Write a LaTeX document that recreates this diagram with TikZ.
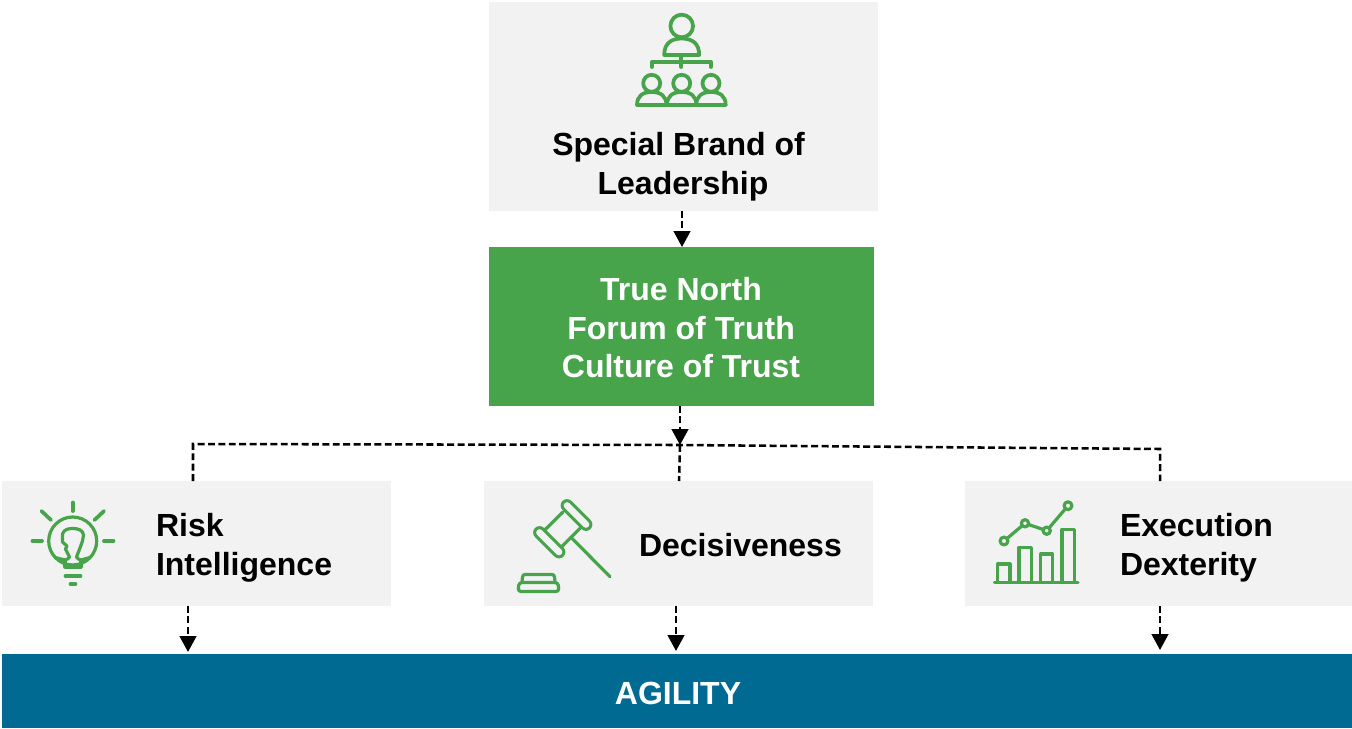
\documentclass[tikz,border=0pt]{standalone}
\usepackage{fontspec}
\setmainfont{Liberation Sans}
\usetikzlibrary{arrows.meta}
\definecolor{boxgray}{HTML}{F2F2F2}
\definecolor{leafgreen}{HTML}{47A44B}
\definecolor{deepblue}{HTML}{006A93}
\newcommand{\personicon}[6]{% cx, head y, head r, half width, body top, base
  \draw[icon,fill=boxgray] (#1,#2) circle[radius=#3];
  \draw[icon] ({#1-#4},#6) .. controls ({#1-#4},{#5+0.3*(#6-#5)}) and ({#1-0.6*#4},#5) .. (#1,#5)
     .. controls ({#1+0.6*#4},#5) and ({#1+#4},{#5+0.3*(#6-#5)}) .. ({#1+#4},#6) -- cycle;
}
\tikzset{
  x=0.75pt,y=-0.75pt,
  panel/.style={fill=boxgray,draw=none,inner sep=0pt,outer sep=0pt},
  label text/.style={font=\fontsize{24pt}{28.9pt}\selectfont\bfseries,inner sep=0pt,outer sep=0pt},
  icon/.style={draw=leafgreen,line width=2.8pt,line cap=round,line join=round},
  thin icon/.style={icon,line width=2.4pt},
  capsule/.style={draw=leafgreen,line width=2.3pt,double=boxgray,double distance=5pt,line cap=round},
  link/.style={draw=black,line width=1.9pt,dash pattern=on 5.2pt off 2.6pt},
  flow/.style={link,-{Triangle[length=12pt,width=12.5pt,fill=black]}},
}
\begin{document}
\begin{tikzpicture}
\useasboundingbox (0,0) rectangle (1352,728);
\fill[white] (0,0) rectangle (1352,728);

% boxes
\node[panel,minimum width=291.75pt,minimum height=156.75pt] (top) at (683.5,106.5) {};
\node[fill=leafgreen,inner sep=0pt,outer sep=0pt,minimum width=288.75pt,minimum height=119.25pt] (forum) at (681.5,326.5) {};
\node[panel,minimum width=291.75pt,minimum height=93.75pt] (risk) at (196.5,543.5) {};
\node[panel,minimum width=291.75pt,minimum height=93.75pt] (deci) at (678.5,543.5) {};
\node[panel,minimum width=290.25pt,minimum height=93.75pt] (exec) at (1158.5,543.5) {};
\node[fill=deepblue,inner sep=0pt,outer sep=0pt,minimum width=1012.5pt,minimum height=55.5pt] (agility) at (677,691) {};

% texts
\node[label text,align=center] (toptext) at (678.5,166.5) {Special Brand of\\\hspace*{6.75pt}Leadership};
\node[label text,align=center,text=white] (forumtext) at (681,328) {True North\\Forum of Truth\\Culture of Trust};
\node[label text,align=left,anchor=west] (risktext) at (156,548) {Risk\\Intelligence};
\node[label text,anchor=west] (decitext) at (639,545.5) {Decisiveness};
\node[label text,align=left,anchor=west] (exectext) at (1120,547.5) {Execution\\Dexterity};
\node[label text,text=white] (agilitytext) at (678,693) {AGILITY};

% connectors
\coordinate (hub) at (680,445);
\coordinate (busL) at (193,444);
\coordinate (busR) at (1160,449);
\coordinate (riskUp) at (193,481);
\coordinate (deciUp) at (679,481);
\coordinate (execUp) at (1160,481);
\coordinate (a1s) at (682,211); \coordinate (a1e) at (682,247);
\coordinate (a2s) at (680,406);
\coordinate (r1) at (188,606); \coordinate (r2) at (188,652);
\coordinate (d1) at (676,606); \coordinate (d2) at (676,651);
\coordinate (e1) at (1160,606); \coordinate (e2) at (1160,650);
\draw[flow] (a1s) -- (a1e);
\draw[flow] (a2s) -- (hub);
\draw[link] (riskUp) -- (busL) -- (hub) -- (busR) -- (execUp);
\draw[link] (hub) -- (deciUp);
\draw[flow] (r1) -- (r2);
\draw[flow] (d1) -- (d2);
\draw[flow] (e1) -- (e2);

% leadership icon
\personicon{681.7}{26}{11.3}{17.5}{38.5}{55}
\draw[icon] (651.7,67) -- (651.7,61.7) -- (711,61.7) -- (711,67);
\draw[icon] (681.3,55) -- (681.3,67);
\personicon{651.7}{83.3}{8.5}{14.7}{92}{105}
\personicon{681.7}{83.3}{8.5}{14.7}{92}{105}
\personicon{711}{83.3}{8.5}{14.7}{92}{105}

% bulb icon
\draw[thin icon] (72.7,541) circle[radius=24];
\draw[icon] (72.7,502.5) -- (72.7,511);
\draw[icon] (41.5,511) -- (51,520);
\draw[icon] (104,511) -- (94.5,520);
\draw[icon] (32.5,541) -- (42,541);
\draw[icon] (104,541) -- (113.5,541);
\draw[icon] (65.5,576) -- (80.5,576);
\draw[icon] (70.5,584) -- (75.5,584);
\draw[thin icon] (65,560) -- (65,567) -- (81,567) -- (81,560);
\draw[thin icon] (55,557.5) -- (65,560) .. controls (67,559) and (69,559) .. (69.5,557)
  -- (65.5,549) -- (67,546) -- (62.5,542) -- (62.5,534) .. controls (64,529) and (69,528.5) .. (73,528.5)
  .. controls (78,528.5) and (83,530) .. (83.5,535) -- (82.5,541) -- (80,548) -- (76.5,557)
  .. controls (77,559) and (79,559) .. (81,560) -- (90,557.5);

% gavel icon
\draw[thin icon] (562.7,512.3) -- (544,530.7);
\draw[thin icon] (580,528.3) -- (561.7,546.7);
\draw[thin icon] (571,537.3) -- (610,576.7);
\draw[capsule] (567,505.5) -- (586,524.5);
\draw[capsule] (539.5,532.5) -- (559,552);
\draw[thin icon] (522,581.5) -- (522.5,577) .. controls (522.7,575.5) and (523.5,574.5) .. (525,574.5) -- (552,574.5)
  .. controls (553.5,574.5) and (554.3,575.5) .. (554.5,577) -- (555,581.5);
\draw[thin icon,rounded corners=2.2pt] (519,582.5) -- (558,582.5) -- (559,591.5) -- (518,591.5) -- cycle;

% chart icon
\draw[thin icon] (994.5,582.3) -- (1078,582.3);
\draw[thin icon] (997.7,582.3) -- (997.7,564) -- (1010,564) -- (1010,582.3);
\draw[thin icon] (1019,582.3) -- (1019,547.3) -- (1031.7,547.3) -- (1031.7,582.3);
\draw[thin icon] (1040.7,582.3) -- (1040.7,554) -- (1052.7,554) -- (1052.7,582.3);
\draw[thin icon] (1062,582.3) -- (1062,529.3) -- (1074.3,529.3) -- (1074.3,582.3);
\draw[thin icon] (1004,541) -- (1025,523.3) -- (1046.7,530.7) -- (1068,505.7);
\draw[thin icon,fill=boxgray] (1004,541) circle[radius=3.9];
\draw[thin icon,fill=boxgray] (1025,523.3) circle[radius=3.6];
\draw[thin icon,fill=boxgray] (1046.7,530.7) circle[radius=3.6];
\draw[thin icon,fill=boxgray] (1068,505.7) circle[radius=3.9];
\end{tikzpicture}
\end{document}
